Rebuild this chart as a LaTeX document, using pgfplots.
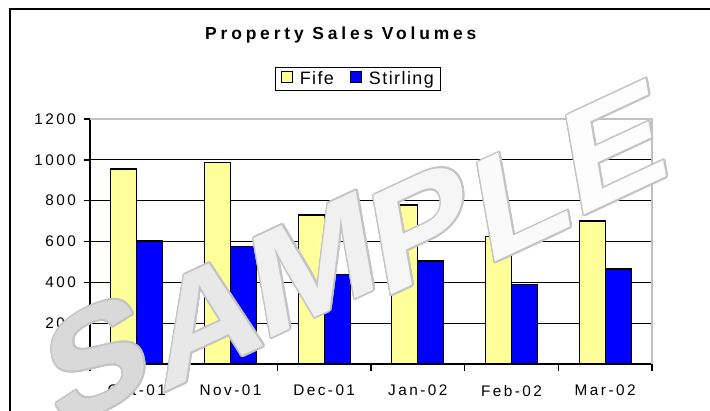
\documentclass[border=0pt]{standalone}
\usepackage{fontspec}
\setmainfont{Liberation Sans}
\newfontfamily\tickfont{Liberation Sans}[LetterSpace=16]
\newfontfamily\titlefont{Liberation Sans}[LetterSpace=22]
\newfontfamily\legfont{Liberation Sans}[LetterSpace=8]
\newfontfamily\wmfont{Liberation Sans}
\usepackage{pgfplots}
\pgfplotsset{compat=1.18}
\usepackage{contour}
\contourlength{1.6bp}
\definecolor{fife}{HTML}{FFFF99}
\definecolor{stir}{HTML}{0000FF}
\definecolor{bord}{HTML}{C0C0C0}
\definecolor{wmline}{HTML}{C4C4C4}
\definecolor{wS}{HTML}{D9D9D9}
\definecolor{wA}{HTML}{E8E8E8}
\definecolor{wM}{HTML}{F0F0F0}
\definecolor{wP}{HTML}{F6F6F6}
\definecolor{wL}{HTML}{FAFAFA}
\definecolor{wE}{HTML}{FDFDFD}
\begin{document}
\begin{tikzpicture}[x=1bp,y=1bp]
\useasboundingbox (0,0) rectangle (710,410);
\clip (0,0) rectangle (710,410);
\fill[white] (0,0) rectangle (710,410);
\draw[line width=2.5bp] (10,-20) -- (10,401) -- (730,401);
\begin{axis}[
  at={(90bp,46bp)}, anchor=south west,
  width=562bp, height=245bp, scale only axis,
  xmin=-0.5, xmax=5.5, ymin=0, ymax=1200,
  axis lines=left,
  axis line style={-, line width=1.5bp, black},
  tick align=outside,
  tick style={black, line width=1.5bp},
  major tick length=6.5bp,
  minor tick length=6.5bp,
  ytick={0,200,...,1000},
  extra y ticks={1200},
  extra y tick style={grid=none},
  ymajorgrids,
  major grid style={black, line width=1bp},
  xtick={0,...,5},
  xticklabels={Oct-01,Nov-01,Dec-01,Jan-02,Feb-02,Mar-02},
  major x tick style={draw=none},
  minor xtick={-0.5,0.5,...,5.5},
  ticklabel style={font=\tickfont\fontsize{15.4}{18}\selectfont},
  yticklabel style={xshift=-4bp},
  xticklabel style={yshift=-11bp},
  /pgf/number format/assume math mode=true,
  /pgf/number format/1000 sep={},
  ybar, bar width=26bp,
  legend columns=2,
  legend style={at={(0.4774,1.163)}, anchor=center, draw=black, line width=1.2bp,
    font=\legfont\fontsize{18}{20}\selectfont, inner xsep=5bp, inner ysep=2.5bp,
    /tikz/every odd column/.append style={column sep=5bp},
    /tikz/every even column/.append style={column sep=14bp}},
  legend image code/.code={\draw[#1, line width=1bp] (0bp,-3.5bp) rectangle (11bp,7.5bp);},
  after end axis/.code={
    \draw[bord, line width=1.2bp] (rel axis cs:0,1) -- (rel axis cs:1,1) -- (rel axis cs:1,0);
  },
]
\addplot[fill=fife, draw=black, line width=1.3bp, bar shift=-13bp]
  coordinates {(0,955) (1,988) (2,730) (3,779) (4,624) (5,700)};
\addplot[fill=stir, draw=black, line width=1.3bp, bar shift=13bp]
  coordinates {(0,602) (1,575) (2,439) (3,504) (4,390) (5,465)};
\legend{Fife, Stirling}
\end{axis}
\node[anchor=base west, font=\titlefont\bfseries\fontsize{17.5}{20}\selectfont, inner sep=0pt] at (205,371) {Property Sales Volumes};
% watermark
\foreach \L/\px/\py/\c in {S/97/50/wS, A/206/90/wA, M/314/145/wM, P/422/182/wP, L/522/213/wL, E/615/262/wE}{
  \begin{scope}[shift={(\px,\py)}, cm={1.0,0.466,-0.174,0.985,(0,0)}]
    \node[transform shape, inner sep=0pt, text=\c, font=\wmfont\bfseries\fontsize{147}{150}\selectfont] at (0,0) {\contour{wmline}{\L}};
  \end{scope}
}
\end{tikzpicture}
\end{document}
